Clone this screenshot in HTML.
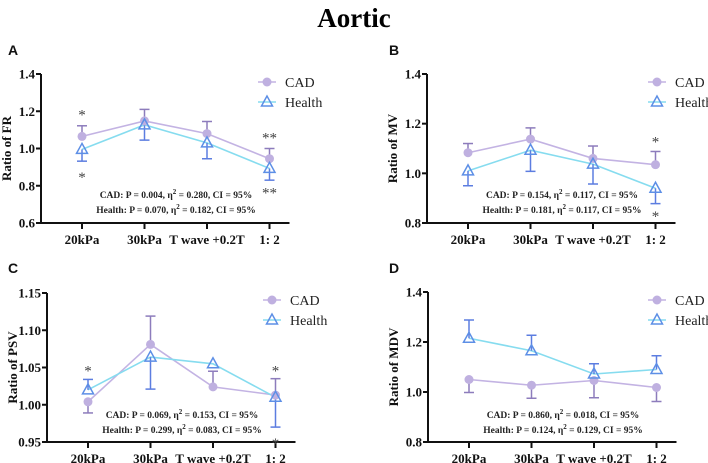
<!DOCTYPE html>
<html><head><meta charset="utf-8"><style>
body{margin:0;background:#fff;}
svg{display:block;}
text{font-family:"Liberation Serif",serif;}
.tk{font-family:"Liberation Serif",serif;font-size:13px;font-weight:bold;fill:#111;}
.an{font-family:"Liberation Serif",serif;font-size:9.5px;font-weight:bold;fill:#222;}
.lg{font-family:"Liberation Serif",serif;font-size:14px;fill:#222;}
.pl{font-family:"Liberation Sans",sans-serif;font-size:14px;font-weight:bold;fill:#111;}
</style></head><body>
<svg id="chart" width="708" height="463" viewBox="0 0 708 463">
<text x="354" y="27" text-anchor="middle" font-size="27" font-weight="bold" font-family="Liberation Serif, serif">Aortic</text>
</svg>
<script>
const categories = ["20kPa","30kPa","T wave +0.2T","1: 2"];
// Panel A (FR)
const aCad = [1.065,1.148,1.08,0.945];
const aCadUp = [0.057,0.062,0.065,0.055];
const aCadDown = [0,0,0,0];
const aHealth = [0.995,1.127,1.03,0.893];
const aHealthUp = [0,0,0,0];
const aHealthDown = [0.063,0.082,0.085,0.063];
const aTicks = ["0.6","0.8","1.0","1.2","1.4"];
// Panel B (MV)
const bCad = [1.083,1.138,1.06,1.035];
const bCadUp = [0.037,0.045,0.05,0.053];
const bCadDown = [0,0,0,0];
const bHealth = [1.01,1.093,1.037,0.94];
const bHealthUp = [0,0,0,0];
const bHealthDown = [0.06,0.085,0.08,0.062];
const bTicks = ["0.8","1.0","1.2","1.4"];
// Panel C (PSV)
const cCad = [1.004,1.081,1.024,1.013];
const cCadUp = [0,0.038,0.021,0.022];
const cCadDown = [0.015,0,0,0];
const cHealth = [1.02,1.064,1.055,1.01];
const cHealthUp = [0.014,0,0,0];
const cHealthDown = [0,0.043,0,0.04];
const cTicks = ["0.95","1.00","1.05","1.10","1.15"];
// Panel D (MDV)
const dCad = [1.05,1.027,1.046,1.018];
const dCadUp = [0,0,0,0];
const dCadDown = [0.052,0.052,0.069,0.056];
const dHealth = [1.215,1.165,1.072,1.09];
const dHealthUp = [0.073,0.062,0.041,0.055];
const dHealthDown = [0,0,0,0];
const dTicks = ["0.8","1.0","1.2","1.4"];

const NS="http://www.w3.org/2000/svg";
const svg=document.getElementById('chart');
function mk(tag,attrs,parent,text){const e=document.createElementNS(NS,tag);for(const k in attrs)e.setAttribute(k,attrs[k]);if(text!==undefined)e.textContent=text;(parent||svg).appendChild(e);return e;}

const panels=[
 {id:'a',letter:'A',lx:8,ly:55,ax:41,top:74,bot:223,ticks:aTicks,ylabel:'Ratio of FR',cad:aCad,cu:aCadUp,cd:aCadDown,h:aHealth,hu:aHealthUp,hd:aHealthDown,legX:267,legY:82,annX:176,annY:195,
  ann:['CAD: P = 0.004, η','= 0.280, CI = 95%','Health: P = 0.070, η','= 0.182, CI = 95%'],
  stars:[[0,1.2,'*'],[0,0.862,'*'],[3,1.075,'**'],[3,0.78,'**']]},
 {id:'b',letter:'B',lx:389,ly:55,ax:427,top:74,bot:223,ticks:bTicks,ylabel:'Ratio of MV',cad:bCad,cu:bCadUp,cd:bCadDown,h:bHealth,hu:bHealthUp,hd:bHealthDown,legX:657,legY:82,annX:562,annY:195,
  ann:['CAD: P = 0.154, η','= 0.117, CI = 95%','Health: P = 0.181, η','= 0.117, CI = 95%'],
  stars:[[3,1.14,'*'],[3,0.84,'*']]},
 {id:'c',letter:'C',lx:8,ly:273,ax:47,top:293,bot:442,ticks:cTicks,ylabel:'Ratio of PSV',cad:cCad,cu:cCadUp,cd:cCadDown,h:cHealth,hu:cHealthUp,hd:cHealthDown,legX:272,legY:300,annX:182,annY:415,
  ann:['CAD: P = 0.069, η','= 0.153, CI = 95%','Health: P = 0.299, η','= 0.083, CI = 95%'],
  stars:[[0,1.05,'*'],[3,1.05,'*'],[3,0.953,'*']]},
 {id:'d',letter:'D',lx:389,ly:273,ax:428,top:292,bot:442,ticks:dTicks,ylabel:'Ratio of MDV',cad:dCad,cu:dCadUp,cd:dCadDown,h:dHealth,hu:dHealthUp,hd:dHealthDown,legX:657,legY:300,annX:563,annY:415,
  ann:['CAD: P = 0.860, η','= 0.018, CI = 95%','Health: P = 0.124, η','= 0.129, CI = 95%'],
  stars:[]}
];

const CADL='#c3b3e3',CADM='#bfb0e0',CADE='#8d7cbc',HL='#86dcef',HM='#5d8fe6',HE='#5c7de0';

panels.forEach(p=>{
 const g=mk('g',{});
 
 
 const ymin=parseFloat(p.ticks[0]),ymax=parseFloat(p.ticks[p.ticks.length-1]);
 const y=v=>p.bot-(v-ymin)/(ymax-ymin)*(p.bot-p.top);
 const x=i=>p.ax+41+i*62.5;
 const lt=mk('text',{x:p.lx,y:p.ly,class:'pl'},g,p.letter);
 
 
 const yAxis=mk('line',{x1:p.ax,y1:p.top,x2:p.ax,y2:p.bot+1,stroke:'#111','stroke-width':2},g);
 
 
 const xAxis=mk('line',{x1:p.ax-1,y1:p.bot,x2:x(3)+20,y2:p.bot,stroke:'#111','stroke-width':2},g);
 
 
 p.ticks.forEach(t=>{
  const v=parseFloat(t);
  mk('line',{x1:p.ax-5,y1:y(v),x2:p.ax,y2:y(v),stroke:'#111','stroke-width':2},g);
  const tl=mk('text',{x:p.ax-6,y:y(v)+4.5,'text-anchor':'end',class:'tk'},g,t);
  
  
 });
 categories.forEach((c,i)=>{
  mk('line',{x1:x(i),y1:p.bot,x2:x(i),y2:p.bot+6,stroke:'#111','stroke-width':2},g);
  const tl=mk('text',{x:x(i),y:p.bot+21,'text-anchor':'middle',class:'tk'},g,c);
  
  
 });
 const yl=mk('text',{x:0,y:0,transform:`translate(${p.ax-30},${(p.top+p.bot)/2}) rotate(-90)`,'text-anchor':'middle',class:'tk'},g,p.ylabel);
 
 
 const cl=mk('polyline',{points:p.cad.map((v,i)=>x(i)+','+y(v)).join(' '),fill:'none',stroke:CADL,'stroke-width':1.6},g);
 
 
 const hl=mk('polyline',{points:p.h.map((v,i)=>x(i)+','+y(v)).join(' '),fill:'none',stroke:HL,'stroke-width':1.6},g);
 
 
 function err(vals,up,dn,col,name){
  vals.forEach((v,i)=>{
   [[up[i],1],[dn[i],-1]].forEach(([e,s])=>{
    if(!e)return;
    const eg=mk('g',{},g);
    
    
    mk('line',{x1:x(i),y1:y(v),x2:x(i),y2:y(v+s*e),stroke:col,'stroke-width':1.5},eg);
    mk('line',{x1:x(i)-5,y1:y(v+s*e),x2:x(i)+5,y2:y(v+s*e),stroke:col,'stroke-width':1.5},eg);
   });
  });
 }
 err(p.cad,p.cu,p.cd,CADE,'cad');
 err(p.h,p.hu,p.hd,HE,'health');
 p.cad.forEach((v,i)=>{
  const c=mk('circle',{cx:x(i),cy:y(v),r:4.5,fill:CADM},g);
  
  
 });
 p.h.forEach((v,i)=>{
  const X=x(i),Y=y(v);
  const t=mk('polygon',{points:`${X},${Y-6} ${X-5.5},${Y+4} ${X+5.5},${Y+4}`,fill:'none',stroke:HM,'stroke-width':1.5},g);
  
  
 });
 p.stars.forEach(s=>{
  const st=mk('text',{x:x(s[0]),y:y(s[1])+8,'text-anchor':'middle','font-size':15,fill:'#444'},g,s[2]);
  
  
 });
 const lg1=mk('g',{},g);
 
 
 mk('line',{x1:p.legX-9,y1:p.legY,x2:p.legX+9,y2:p.legY,stroke:CADL,'stroke-width':1.6},lg1);
 mk('circle',{cx:p.legX,cy:p.legY,r:4.5,fill:CADM},lg1);
 mk('text',{x:p.legX+18,y:p.legY+5,class:'lg'},lg1,'CAD');
 const lg2=mk('g',{},g);
 
 
 const ly=p.legY+20;
 mk('line',{x1:p.legX-9,y1:ly,x2:p.legX+9,y2:ly,stroke:HL,'stroke-width':1.6},lg2);
 mk('polygon',{points:`${p.legX},${ly-6} ${p.legX-5.5},${ly+4} ${p.legX+5.5},${ly+4}`,fill:'none',stroke:HM,'stroke-width':1.5},lg2);
 mk('text',{x:p.legX+18,y:ly+5,class:'lg'},lg2,'Health');
 [0,1].forEach(k=>{
  const t=mk('text',{x:p.annX,y:p.annY+k*15+3,'text-anchor':'middle',class:'an'},g);
  
  
  mk('tspan',{},t,p.ann[k*2]);
  mk('tspan',{dy:-4,'font-size':7},t,'2');
  mk('tspan',{dy:4},t,' '+p.ann[k*2+1]);
 });
});
</script>
</body></html>
